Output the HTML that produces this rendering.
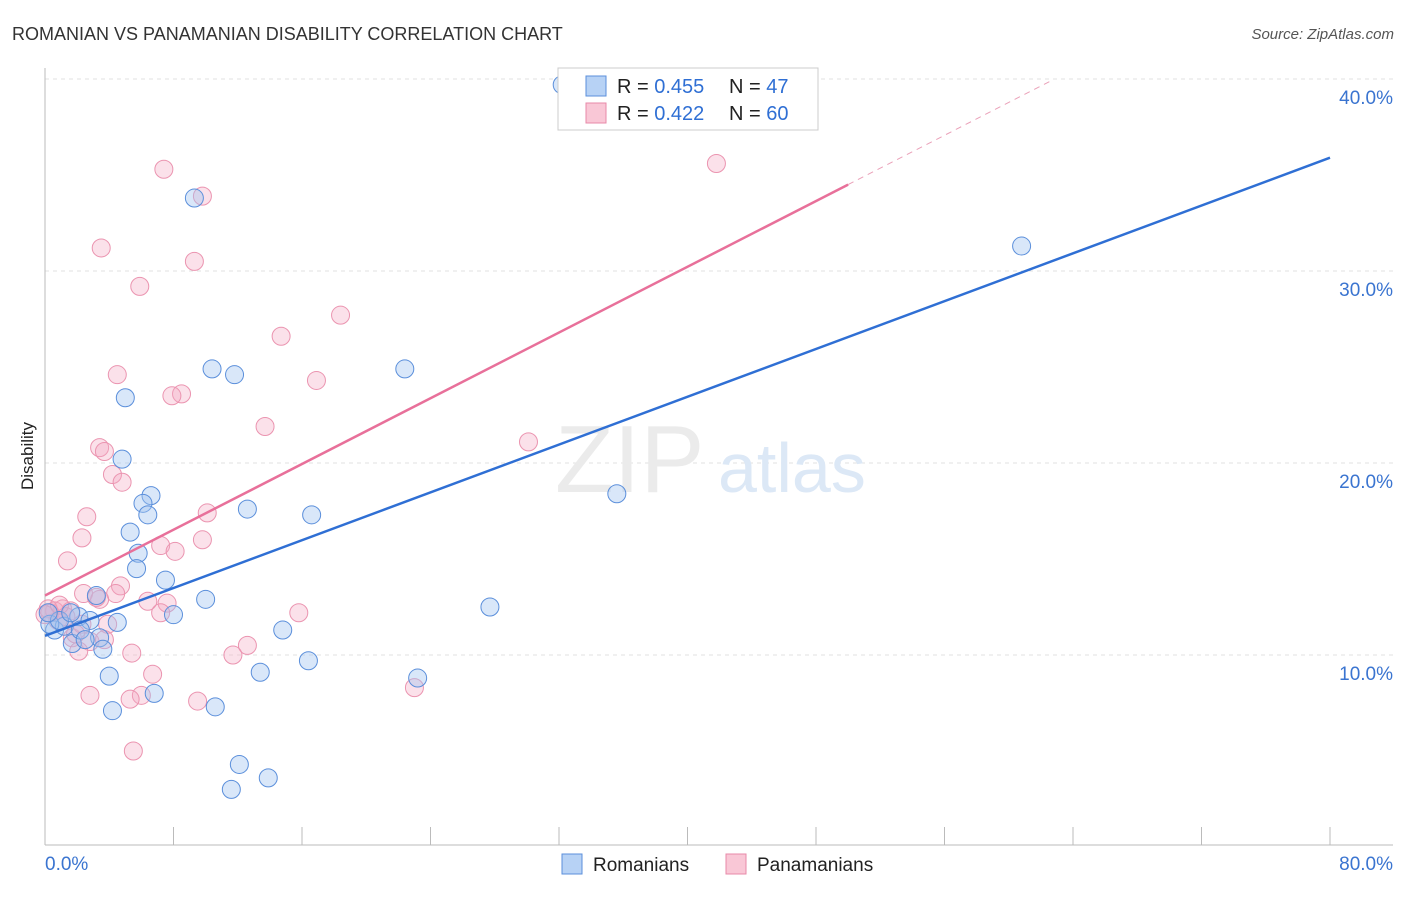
<!DOCTYPE html>
<html><head><meta charset="utf-8"><style>
body{margin:0;background:#fff;font-family:"Liberation Sans",sans-serif;}
svg text{font-family:"Liberation Sans",sans-serif;}
</style></head><body>
<svg id="c" width="1406" height="892">
<text x="12" y="40" font-size="18" fill="#333">ROMANIAN VS PANAMANIAN DISABILITY CORRELATION CHART</text>
<text x="1394" y="39" font-size="15" fill="#555" text-anchor="end" font-style="italic">Source: ZipAtlas.com</text>
<text x="33" y="456" font-size="17" fill="#222" text-anchor="middle" transform="rotate(-90 33 456)">Disability</text>
<g id="grid"></g>
<text x="555" y="492" font-size="96" fill="#ebebeb" font-family="Liberation Serif">ZIP</text>
<text x="718" y="492" font-size="70" fill="#dce8f6">atlas</text>
<g id="pts"></g>
<g id="lines"></g>
<g>
<rect x="558" y="68" width="260" height="62" fill="#fff" stroke="#ccc"/>
<rect x="586" y="76" width="20" height="20" fill="#b7d2f5" stroke="#5b8fdb"/>
<rect x="586" y="103" width="20" height="20" fill="#f9c7d6" stroke="#e88aa8"/>
<text x="617" y="93" font-size="20" fill="#222">R = <tspan fill="#2f6fd4">0.455</tspan></text>
<text x="729" y="93" font-size="20" fill="#222">N = <tspan fill="#2f6fd4">47</tspan></text>
<text x="617" y="120" font-size="20" fill="#222">R = <tspan fill="#2f6fd4">0.422</tspan></text>
<text x="729" y="120" font-size="20" fill="#222">N = <tspan fill="#2f6fd4">60</tspan></text>
</g>
<g>
<rect x="562" y="854" width="20" height="20" fill="#b7d2f5" stroke="#5b8fdb"/>
<text x="593" y="871" font-size="19" fill="#222">Romanians</text>
<rect x="726" y="854" width="20" height="20" fill="#f9c7d6" stroke="#e88aa8"/>
<text x="757" y="871" font-size="19" fill="#222">Panamanians</text>
</g>
</svg>
<script>
const yTicks=[10,20,30,40];
const yTickLabels=["10.0%","20.0%","30.0%","40.0%"];
const xTickLabels=["0.0%","80.0%"];
const romX=[32.2,9.3,60.8,10.4,11.8,22.4,5.0,4.8,6.6,6.1,6.4,12.6,16.6,5.3,5.8,5.7,7.5,35.6,27.7,10.0,8.0,3.2,4.5,2.1,2.8,14.8,0.6,1.2,0.3,3.4,1.7,3.6,2.2,4.0,16.4,13.4,23.2,4.2,6.8,10.6,12.1,13.9,11.6,0.9,1.6,2.5,0.2];
const romY=[39.7,33.8,31.3,24.9,24.6,24.9,23.4,20.2,18.3,17.9,17.3,17.6,17.3,16.4,15.3,14.5,13.9,18.4,12.5,12.9,12.1,13.1,11.7,12.0,11.8,11.3,11.3,11.5,11.6,10.9,10.6,10.3,11.3,8.9,9.7,9.1,8.8,7.1,8.0,7.3,4.3,3.6,3.0,11.8,12.2,10.8,12.2];
const panX=[7.4,9.8,3.5,9.3,5.9,18.4,14.7,4.5,16.9,8.5,7.9,13.7,3.4,3.7,4.2,4.8,2.6,10.1,2.3,9.8,7.2,8.1,1.4,4.7,4.4,2.4,3.4,6.4,7.6,7.2,15.8,0.6,1.1,0.3,1.6,3.9,1.7,2.8,12.6,5.4,2.1,11.7,6.7,2.8,6.0,5.3,9.5,23.0,5.5,30.1,41.8,0.8,1.3,0.2,2.3,3.2,0,0.9,1.9,3.7];
const panY=[35.3,33.9,31.2,30.5,29.2,27.7,26.6,24.6,24.3,23.6,23.5,21.9,20.8,20.6,19.4,19.0,17.2,17.4,16.1,16.0,15.7,15.4,14.9,13.6,13.2,13.2,12.9,12.8,12.7,12.2,12.2,12.3,12.4,12.2,12.3,11.6,10.9,10.7,10.5,10.1,10.2,10.0,9.0,7.9,7.9,7.7,7.6,8.3,5.0,21.1,35.6,11.8,12.0,12.4,11.6,13.0,12.1,12.6,11.1,10.8];
const romLine=[11.0,35.9];
const panLine=[13.1,0.428];
const NS="http://www.w3.org/2000/svg";
const X=v=>45+v/80*1285, Y=v=>847-v*19.2;
function mk(t,a,p){const e=document.createElementNS(NS,t);for(const k in a)e.setAttribute(k,a[k]);p.appendChild(e);return e;}
const g=document.getElementById('grid');
yTicks.forEach((t,i)=>{
 const l=mk('line',{x1:45,x2:1393,y1:Y(t),y2:Y(t),stroke:'#e2e2e2','stroke-dasharray':'4,4'},g);
 
 
 const tx=mk('text',{x:1393,y:Y(t)+25,'font-size':19,fill:'#3a74d0','text-anchor':'end'},g);tx.textContent=yTickLabels[i];
 
 
});
mk('line',{x1:45,x2:45,y1:68,y2:845,stroke:'#bbb'},g);
mk('line',{x1:45,x2:1393,y1:845,y2:845,stroke:'#bbb'},g);
for(let i=1;i<=10;i++){mk('line',{x1:X(i*8),x2:X(i*8),y1:827,y2:845,stroke:'#bbb'},g);}
const xl0=mk('text',{x:45,y:870,'font-size':19,fill:'#3a74d0'},g);xl0.textContent=xTickLabels[0];


const xl1=mk('text',{x:1393,y:870,'font-size':19,fill:'#3a74d0','text-anchor':'end'},g);xl1.textContent=xTickLabels[1];


const p=document.getElementById('pts');
panX.forEach((v,i)=>{const c=mk('circle',{cx:X(v),cy:Y(panY[i]),r:9,fill:'rgba(244,170,195,0.35)',stroke:'#eb94b0','stroke-width':1},p);
 
 });
romX.forEach((v,i)=>{const c=mk('circle',{cx:X(v),cy:Y(romY[i]),r:9,fill:'rgba(160,195,240,0.4)',stroke:'#5b8fdb','stroke-width':1},p);
 
 });
const L=document.getElementById('lines');
const bl=mk('line',{x1:X(0),y1:Y(romLine[0]),x2:X(80),y2:Y(romLine[1]),stroke:'#2f6fd4','stroke-width':2.5},L);


const pl=mk('line',{x1:X(0),y1:Y(panLine[0]),x2:X(50),y2:Y(panLine[0]+panLine[1]*50),stroke:'#e8709a','stroke-width':2.5},L);


const pd=mk('line',{x1:X(50),y1:Y(panLine[0]+panLine[1]*50),x2:X(62.6),y2:Y(panLine[0]+panLine[1]*62.6),stroke:'#eaa0b8','stroke-width':1,'stroke-dasharray':'6,5'},L);


</script>
</body></html>
